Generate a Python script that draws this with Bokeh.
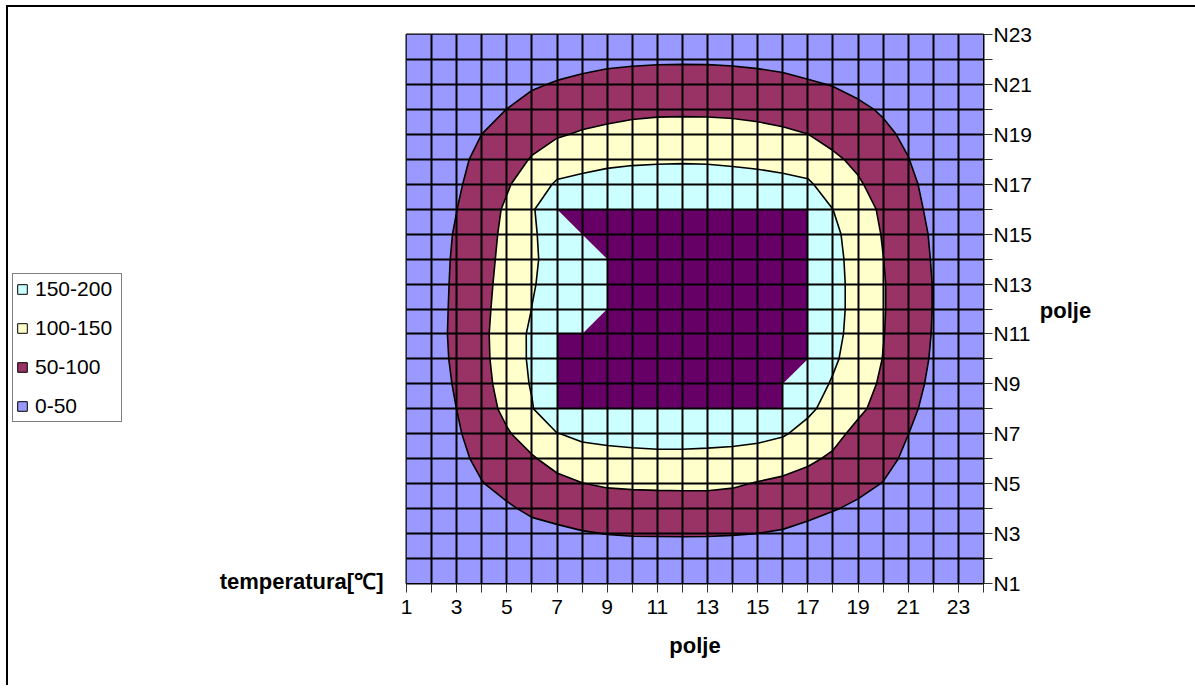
from bokeh.plotting import figure
from bokeh.layouts import row
from bokeh.models import FixedTicker, Label, Legend, LegendItem, Range1d
from bokeh.embed import file_html
from bokeh.resources import INLINE

# ---- data -------------------------------------------------------------
cols = [1, 2, 3, 4, 5, 6, 7, 8, 9, 10, 11, 12, 13, 14, 15, 16, 17, 18, 19, 20, 21, 22, 23, 24]
rows = [1, 2, 3, 4, 5, 6, 7, 8, 9, 10, 11, 12, 13, 14, 15, 16, 17, 18, 19, 20, 21, 22, 23]
x_tick_labels = ["1", "", "3", "", "5", "", "7", "", "9", "", "11", "", "13", "", "15", "", "17", "", "19", "", "21", "", "23", ""]
y_tick_labels = ["N1", "", "N3", "", "N5", "", "N7", "", "N9", "", "N11", "", "N13", "", "N15", "", "N17", "", "N19", "", "N21", "", "N23"]

row_N1 = [3, 5, 7, 8, 9, 10, 11, 11, 11, 12, 12, 12, 12, 12, 11, 10, 9, 8, 8, 8, 7, 6, 5, 3]
row_N2 = [5, 9, 14, 17, 19, 21, 23, 24, 26, 27, 27.5, 28, 27.5, 27, 25, 23, 20, 18, 17, 16, 13, 11, 8, 4]
row_N3 = [7, 13, 21, 28, 32, 37.4, 41.4, 46.9, 50.8, 52.7, 52.9, 53.2, 53, 51.8, 49.8, 46.2, 38.5, 31.4, 29, 27, 21, 16, 11, 6]
row_N4 = [8, 17, 28, 38, 45.1, 56.8, 64.7, 72.9, 77.5, 79.3, 79.7, 80.1, 80.2, 78, 73.6, 68.7, 61.1, 52.1, 44, 38, 28, 21, 14, 7]
row_N5 = [10, 20, 34, 48.5, 61.9, 76.3, 88.1, 99.0, 104.6, 106.5, 107.4, 107.9, 107.8, 104.8, 97.4, 91.2, 83.7, 72.7, 59.4, 48.9, 35, 26, 17, 8]
row_N6 = [12, 23, 40, 59, 78.7, 95.7, 115.9, 128.4, 133.3, 136.3, 138.3, 138.4, 136.9, 134.5, 128.9, 120.2, 107.4, 93.4, 73.6, 60.7, 43, 30, 19, 9]
row_N7 = [13, 26, 45, 69.4, 95.5, 120.4, 148.4, 160.6, 164.8, 167.5, 169.1, 169.1, 167.7, 166.2, 163, 154.5, 133.7, 112.9, 87.9, 72.5, 50.3, 34, 21, 10]
row_N8 = [14, 29, 50.2, 79.8, 111.3, 146.5, 200, 200, 200, 200, 200, 200, 200, 200, 200, 200, 159.3, 131.9, 108.5, 84.3, 59.8, 35.3, 22, 11]
row_N9 = [15, 31, 54.4, 85.6, 118.6, 154.1, 200, 200, 200, 200, 200, 200, 200, 200, 200, 200, 172.7, 145.5, 119.2, 93, 66.9, 40.9, 25, 12]
row_N10 = [16, 32, 58.3, 89.2, 122.3, 158, 200, 200, 200, 200, 200, 200, 200, 200, 200, 200, 200, 157.3, 126.8, 98.9, 72, 45.2, 27, 13]
row_N11 = [16, 32, 60.5, 90.4, 122.8, 158, 200, 200, 200, 200, 200, 200, 200, 200, 200, 200, 200, 163.5, 131.3, 101.5, 74.5, 47.6, 28, 14]
row_N12 = [16, 32, 59.2, 88.8, 119.5, 150.5, 167, 183.5, 200, 200, 200, 200, 200, 200, 200, 200, 200, 165.8, 133.4, 102.8, 75.5, 48.7, 29, 14]
row_N13 = [16, 32, 57.8, 86.7, 116.5, 147, 165.5, 182.8, 200, 200, 200, 200, 200, 200, 200, 200, 200, 165.8, 133.4, 102.8, 75.5, 48.7, 29, 14]
row_N14 = [16, 32, 56.2, 84.5, 113.2, 145, 163.6, 181.8, 200, 200, 200, 200, 200, 200, 200, 200, 200, 164.3, 131.5, 100.6, 73.7, 46.8, 28, 14]
row_N15 = [15, 31, 53.8, 81.3, 110.7, 144, 172.5, 200, 200, 200, 200, 200, 200, 200, 200, 200, 200, 160.6, 127.5, 97.1, 70.8, 44.5, 27, 13]
row_N16 = [15, 30, 49.5, 77.5, 106.6, 143.4, 200, 200, 200, 200, 200, 200, 200, 200, 200, 200, 200, 150, 120.7, 91.9, 65.7, 39.5, 24, 12]
row_N17 = [14, 28, 44, 69, 95, 125, 156.1, 163.5, 169.1, 171.3, 172.1, 172.5, 172.1, 170.2, 167.7, 163.2, 156.5, 128, 105, 82, 58, 37.5, 23, 11]
row_N18 = [13, 26, 40, 60, 81, 103, 123.9, 132.3, 139.0, 142.8, 144.4, 145.2, 144.4, 141.7, 138.3, 133.2, 127.2, 107, 91, 70, 50.9, 30, 20, 10]
row_N19 = [11, 23, 35, 50.1, 64.5, 83.7, 95.6, 104.2, 110.1, 115.2, 117.6, 118.3, 117.8, 115.8, 112.4, 107.1, 100.3, 87, 72.5, 57.5, 43, 27, 17, 9]
row_N20 = [9, 18, 28, 38, 50.3, 64.6, 74.5, 81.4, 85.7, 89.7, 92.0, 92.5, 92.2, 90.8, 87.9, 83.5, 77.5, 68, 57, 46, 35, 23, 14, 7]
row_N21 = [7, 13, 20, 26, 36, 45.4, 53.4, 59.4, 63.8, 66.7, 68.5, 68.9, 68.7, 67.4, 64.7, 60.9, 54.8, 48.4, 40, 33, 27, 18, 11, 6]
row_N22 = [5, 9, 13, 16, 22, 28, 32.3, 37.5, 41.9, 43.8, 45.1, 45.3, 45.1, 43.9, 41.4, 38.2, 32.0, 30, 25, 22, 18, 12, 8, 4]
row_N23 = [3, 5, 7, 9, 12, 15, 16, 19, 22, 23, 24, 24, 24, 23, 22, 20, 16, 15, 13, 11, 9, 7, 5, 3]

temperature = [row_N1, row_N2, row_N3, row_N4, row_N5, row_N6, row_N7, row_N8, row_N9, row_N10,
               row_N11, row_N12, row_N13, row_N14, row_N15, row_N16, row_N17, row_N18, row_N19,
               row_N20, row_N21, row_N22, row_N23]

levels = [0, 50, 100, 150, 199.99, 250]
band_colors = ["#9999FF", "#993366", "#FFFFCC", "#CCFFFF", "#660066"]
legend_labels = ["150-200", "100-150", "50-100", "0-50"]
legend_colors = ["#CCFFFF", "#FFFFCC", "#993366", "#9999FF"]

FONT = "Liberation Sans"
H = 678          # canvas height of every panel
TOP = 7          # page y of canvas top (5px margin + 2px border)
NAN = float("nan")

# ---- left panel: legend + z-axis title ---------------------------------
lf = figure(width=382, height=H, x_range=Range1d(8, 390), y_range=Range1d(TOP + H, TOP),
            min_border=0, x_axis_location=None, y_axis_location=None,
            output_backend="svg", toolbar_location=None)
lf.outline_line_color = None
lf.grid.visible = False

items = []
for lab, col in zip(legend_labels, legend_colors):
    r = lf.quad(left=[NAN], right=[NAN], top=[NAN], bottom=[NAN], fill_color=col, line_color="black")
    items.append(LegendItem(label=lab, renderers=[r]))
legend = Legend(items=items, location=(4, 263),
                glyph_width=12, glyph_height=12,
                label_text_font=FONT, label_text_font_size="21px", label_text_color="black",
                label_height=22, label_width=83, spacing=15, padding=3, margin=0,
                label_standoff=7,
                border_line_color="black", border_line_width=1,
                background_fill_color="white", background_fill_alpha=1)
lf.add_layout(legend)
lf.add_layout(Label(x=383, y=581, text="temperatura[℃]",
                    text_align="right", text_baseline="middle", text_color="black",
                    text_font=FONT, text_font_style="bold", text_font_size="22px"))

# ---- main panel: contour chart -----------------------------------------
p = figure(frame_width=577, frame_height=549,
           x_range=(1, 24), y_range=(1, 23),
           y_axis_location="right",
           min_border_left=16, min_border_right=49,
           min_border_top=27, min_border_bottom=H - 27 - 549,
           output_backend="svg", toolbar_location=None)
p.background_fill_color = "white"
p.outline_line_color = "black"
p.outline_line_width = 2

p.contour(cols, rows, temperature, levels,
          fill_color=band_colors,
          line_color="black", line_width=1.6,
          line_alpha=[0, 1, 1, 1, 0, 0])

p.xaxis.ticker = FixedTicker(ticks=cols)
p.xaxis.major_label_overrides = dict(zip(cols, x_tick_labels))
p.yaxis.ticker = FixedTicker(ticks=rows)
p.yaxis.major_label_overrides = dict(zip(rows, y_tick_labels))
for ax in (p.xaxis[0], p.yaxis[0]):
    ax.major_tick_in = 0
    ax.major_tick_out = 9
    ax.minor_tick_out = 0
    ax.minor_tick_in = 0
    ax.major_tick_line_color = "#333333"
    ax.axis_line_color = "black"
    ax.major_label_text_font = FONT
    ax.major_label_text_font_size = "21px"
    ax.major_label_text_color = "black"
p.xaxis.major_label_standoff = 7
p.yaxis.major_label_standoff = 1
p.xaxis.axis_label = "polje"
p.xaxis.axis_label_text_font = FONT
p.xaxis.axis_label_text_font_style = "bold"
p.xaxis.axis_label_text_font_size = "22px"
p.xaxis.axis_label_text_color = "black"
p.xaxis.axis_label_standoff = 16

p.grid.grid_line_color = "black"
p.grid.grid_line_width = 2
p.grid.level = "overlay"

# ---- right panel: y-axis title ------------------------------------------
rf = figure(width=160, height=H, x_range=Range1d(1032, 1192), y_range=Range1d(TOP + H, TOP),
            min_border=0, x_axis_location=None, y_axis_location=None,
            output_backend="svg", toolbar_location=None)
rf.outline_line_color = None
rf.grid.visible = False
rf.add_layout(Label(x=1062, y=310, text="polje",
                    text_align="center", text_baseline="middle", text_color="black",
                    text_font=FONT, text_font_style="bold", text_font_size="22px"))

for f in (lf, p, rf):
    try:
        f.frame_align = False
    except Exception:
        pass

page = row(lf, p, rf)
page.styles = {"border-left": "2px solid black", "border-top": "2px solid black",
               "margin-left": "6px", "margin-top": "5px"}

open("out.html", "w").write(file_html(page, INLINE))
